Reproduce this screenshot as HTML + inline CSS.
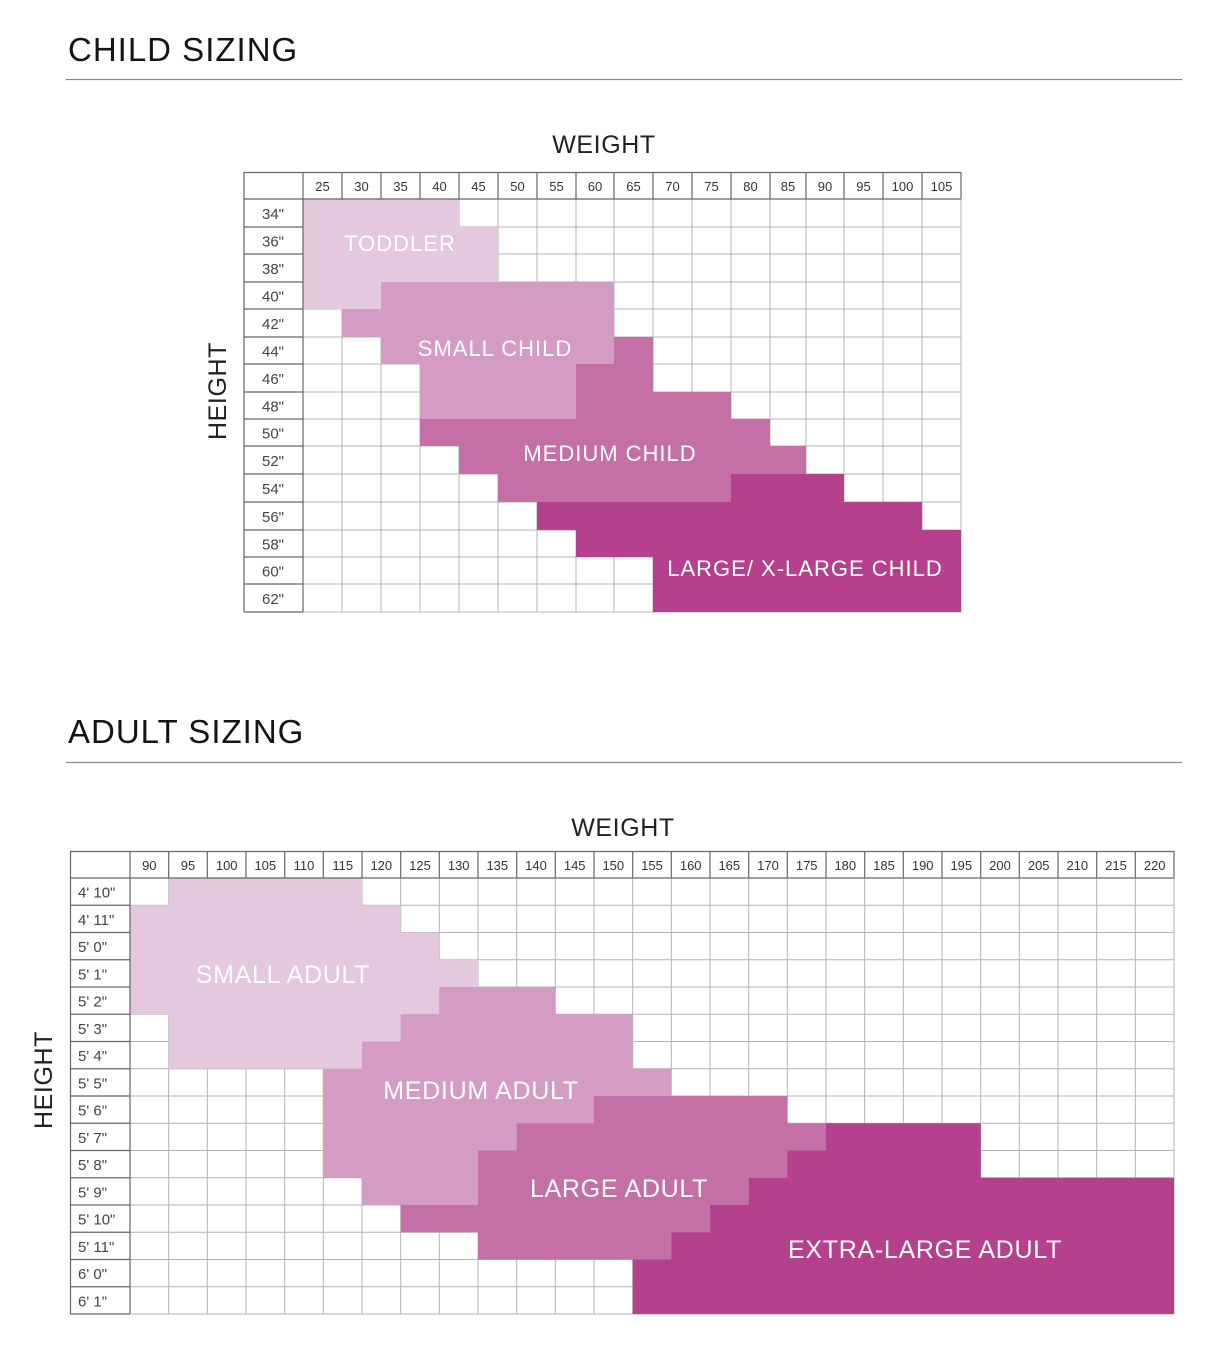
<!DOCTYPE html>
<html>
<head>
<meta charset="utf-8">
<style>
  html,body{margin:0;padding:0;background:#fff;}
  svg{display:block;}
  text{font-family:"Liberation Sans", Arial, sans-serif;}
  .t{font-size:33px;fill:#141414;letter-spacing:1px;}
  .ax{font-size:25px;fill:#222;letter-spacing:0.6px;}
  .hn{font-size:13px;fill:#333;text-anchor:middle;}
  .rl{font-size:15px;fill:#444;}
  .cl{font-size:22px;fill:#fff;letter-spacing:1px;text-anchor:middle;}
  .al{font-size:25px;fill:#fff;letter-spacing:0.7px;text-anchor:middle;}
</style>
</head>
<body>
<svg width="1210" height="1368" viewBox="0 0 1210 1368" xmlns="http://www.w3.org/2000/svg">
<rect x="0" y="0" width="1210" height="1368" fill="#fff"/>

<!-- ===================== CHILD ===================== -->
<text class="t" x="68" y="61">CHILD SIZING</text>
<line x1="66" y1="79.5" x2="1182" y2="79.5" stroke="#8a8a8a" stroke-width="1.3"/>
<text class="ax" x="604" y="153" text-anchor="middle">WEIGHT</text>
<text class="ax" transform="translate(226,391) rotate(-90)" text-anchor="middle">HEIGHT</text>

<!-- light grid -->
<path fill="none" stroke="#b4b4b4" stroke-width="1"
 d="M303 227H961M303 254H961M303 282H961M303 309H961M303 337H961M303 364H961M303 392H961M303 419H961M303 446H961M303 474H961M303 502H961M303 530H961M303 557H961M303 584H961M303 612H961
 M342 199V612M381 199V612M420 199V612M459 199V612M498 199V612M537 199V612M576 199V612M614 199V612M653 199V612M692 199V612M731 199V612M770 199V612M806 199V612M844 199V612M883 199V612M922 199V612M961 199V612"/>

<!-- shapes -->
<polygon fill="#e4c8de" points="303,199 459,199 459,227 498,227 498,282 381,282 381,309 303,309"/>
<polygon fill="#d49cc3" points="381,282 614,282 614,364 576,364 576,419 420,419 420,364 381,364 381,337 342,337 342,309 381,309"/>
<polygon fill="#c470a6" points="614,337 653,337 653,392 731,392 731,419 770,419 770,446 806,446 806,474 731,474 731,502 498,502 498,474 459,474 459,446 420,446 420,419 576,419 576,364 614,364"/>
<polygon fill="#b5418e" points="731,474 844,474 844,502 922,502 922,530 961,530 961,612 653,612 653,557 576,557 576,530 537,530 537,502 731,502"/>

<!-- dark header / label borders -->
<path fill="none" stroke="#666" stroke-width="1.2"
 d="M244 172.5H961M244 199H961
 M244 172V612M303 172V612M342 172V199M381 172V199M420 172V199M459 172V199M498 172V199M537 172V199M576 172V199M614 172V199M653 172V199M692 172V199M731 172V199M770 172V199M806 172V199M844 172V199M883 172V199M922 172V199M961 172V199
 M244 227H303M244 254H303M244 282H303M244 309H303M244 337H303M244 364H303M244 392H303M244 419H303M244 446H303M244 474H303M244 502H303M244 530H303M244 557H303M244 584H303M244 612H303"/>

<!-- header numbers -->
<g class="hn">
<text x="322.5" y="191">25</text><text x="361.5" y="191">30</text><text x="400.5" y="191">35</text><text x="439.5" y="191">40</text>
<text x="478.5" y="191">45</text><text x="517.5" y="191">50</text><text x="556.5" y="191">55</text><text x="595" y="191">60</text>
<text x="633.5" y="191">65</text><text x="672.5" y="191">70</text><text x="711.5" y="191">75</text><text x="750.5" y="191">80</text>
<text x="788" y="191">85</text><text x="825" y="191">90</text><text x="863.5" y="191">95</text><text x="902.5" y="191">100</text>
<text x="941.5" y="191">105</text>
</g>
<!-- row labels -->
<g class="rl">
<text x="262" y="219">34"</text><text x="262" y="246.5">36"</text><text x="262" y="274">38"</text><text x="262" y="301.5">40"</text>
<text x="262" y="329">42"</text><text x="262" y="356.5">44"</text><text x="262" y="384">46"</text><text x="262" y="411.5">48"</text>
<text x="262" y="438.5">50"</text><text x="262" y="466">52"</text><text x="262" y="494">54"</text><text x="262" y="522">56"</text>
<text x="262" y="549.5">58"</text><text x="262" y="576.5">60"</text><text x="262" y="604">62"</text>
</g>

<text class="cl" x="400" y="251">TODDLER</text>
<text class="cl" x="495" y="356">SMALL CHILD</text>
<text class="cl" x="610" y="461">MEDIUM CHILD</text>
<text class="cl" x="805" y="576">LARGE/ X-LARGE CHILD</text>

<!-- ===================== ADULT ===================== -->
<text class="t" x="68" y="743">ADULT SIZING</text>
<line x1="66" y1="762.5" x2="1182" y2="762.5" stroke="#8a8a8a" stroke-width="1.3"/>
<text class="ax" x="623" y="836" text-anchor="middle">WEIGHT</text>
<text class="ax" transform="translate(52,1080) rotate(-90)" text-anchor="middle">HEIGHT</text>

<!-- light grid -->
<path fill="none" stroke="#b4b4b4" stroke-width="1"
 d="M130 905.25H1174M130 932.5H1174M130 959.75H1174M130 987H1174M130 1014.25H1174M130 1041.5H1174M130 1068.75H1174M130 1096H1174M130 1123.25H1174M130 1150.5H1174M130 1177.75H1174M130 1205H1174M130 1232.25H1174M130 1259.5H1174M130 1286.75H1174M130 1314H1174
 M168.7 878V1314M207.3 878V1314M246 878V1314M284.7 878V1314M323.3 878V1314M362 878V1314M400.7 878V1314M439.3 878V1314M478 878V1314M516.7 878V1314M555.3 878V1314M594 878V1314M632.7 878V1314M671.3 878V1314M710 878V1314M748.7 878V1314M787.3 878V1314M826 878V1314M864.7 878V1314M903.3 878V1314M942 878V1314M980.7 878V1314M1019.3 878V1314M1058 878V1314M1096.7 878V1314M1135.3 878V1314M1174 878V1314"/>

<!-- shapes -->
<polygon fill="#e4c8de" points="168.7,878 362,878 362,905.25 400.7,905.25 400.7,932.5 439.3,932.5 439.3,959.75 478,959.75 478,987 439.3,987 439.3,1014.25 400.7,1014.25 400.7,1041.5 362,1041.5 362,1068.75 168.7,1068.75 168.7,1014.25 130,1014.25 130,905.25 168.7,905.25"/>
<polygon fill="#d49cc3" points="439.3,987 555.3,987 555.3,1014.25 632.7,1014.25 632.7,1068.75 671.3,1068.75 671.3,1096 594,1096 594,1123.25 516.7,1123.25 516.7,1150.5 478,1150.5 478,1205 362,1205 362,1177.75 323.3,1177.75 323.3,1068.75 362,1068.75 362,1041.5 400.7,1041.5 400.7,1014.25 439.3,1014.25"/>
<polygon fill="#c470a6" points="594,1096 787.3,1096 787.3,1123.25 826,1123.25 826,1150.5 787.3,1150.5 787.3,1177.75 748.7,1177.75 748.7,1205 710,1205 710,1232.25 671.3,1232.25 671.3,1259.5 478,1259.5 478,1232.25 400.7,1232.25 400.7,1205 478,1205 478,1150.5 516.7,1150.5 516.7,1123.25 594,1123.25"/>
<polygon fill="#b5418e" points="826,1123.25 980.7,1123.25 980.7,1177.75 1174,1177.75 1174,1314 632.7,1314 632.7,1259.5 671.3,1259.5 671.3,1232.25 710,1232.25 710,1205 748.7,1205 748.7,1177.75 787.3,1177.75 787.3,1150.5 826,1150.5"/>

<!-- dark header / label borders -->
<path fill="none" stroke="#666" stroke-width="1.2"
 d="M70 851.5H1174M70 878H1174
 M70.5 851V1314M130 851V1314
 M168.7 851V878M207.3 851V878M246 851V878M284.7 851V878M323.3 851V878M362 851V878M400.7 851V878M439.3 851V878M478 851V878M516.7 851V878M555.3 851V878M594 851V878M632.7 851V878M671.3 851V878M710 851V878M748.7 851V878M787.3 851V878M826 851V878M864.7 851V878M903.3 851V878M942 851V878M980.7 851V878M1019.3 851V878M1058 851V878M1096.7 851V878M1135.3 851V878M1174 851V878
 M70 905.25H130M70 932.5H130M70 959.75H130M70 987H130M70 1014.25H130M70 1041.5H130M70 1068.75H130M70 1096H130M70 1123.25H130M70 1150.5H130M70 1177.75H130M70 1205H130M70 1232.25H130M70 1259.5H130M70 1286.75H130M70 1314H130"/>

<!-- header numbers -->
<g class="hn">
<text x="149.3" y="870">90</text><text x="188" y="870">95</text><text x="226.7" y="870">100</text><text x="265.3" y="870">105</text>
<text x="304" y="870">110</text><text x="342.7" y="870">115</text><text x="381.3" y="870">120</text><text x="420" y="870">125</text>
<text x="458.7" y="870">130</text><text x="497.3" y="870">135</text><text x="536" y="870">140</text><text x="574.7" y="870">145</text>
<text x="613.3" y="870">150</text><text x="652" y="870">155</text><text x="690.7" y="870">160</text><text x="729.3" y="870">165</text>
<text x="768" y="870">170</text><text x="806.7" y="870">175</text><text x="845.3" y="870">180</text><text x="884" y="870">185</text>
<text x="922.7" y="870">190</text><text x="961.3" y="870">195</text><text x="1000" y="870">200</text><text x="1038.7" y="870">205</text>
<text x="1077.3" y="870">210</text><text x="1116" y="870">215</text><text x="1154.7" y="870">220</text>
</g>
<!-- row labels -->
<g class="rl">
<text x="78" y="897.5">4' 10"</text><text x="78" y="924.8">4' 11"</text><text x="78" y="952">5' 0"</text><text x="78" y="979.3">5' 1"</text>
<text x="78" y="1006.5">5' 2"</text><text x="78" y="1033.8">5' 3"</text><text x="78" y="1061">5' 4"</text><text x="78" y="1088.3">5' 5"</text>
<text x="78" y="1115.5">5' 6"</text><text x="78" y="1142.8">5' 7"</text><text x="78" y="1170">5' 8"</text><text x="78" y="1197.3">5' 9"</text>
<text x="78" y="1224.5">5' 10"</text><text x="78" y="1251.8">5' 11"</text><text x="78" y="1279">6' 0"</text><text x="78" y="1306.3">6' 1"</text>
</g>

<text class="al" x="283" y="983">SMALL ADULT</text>
<text class="al" x="481" y="1099">MEDIUM ADULT</text>
<text class="al" x="619" y="1197">LARGE ADULT</text>
<text class="al" x="925" y="1258">EXTRA-LARGE ADULT</text>
</svg>
</body>
</html>
